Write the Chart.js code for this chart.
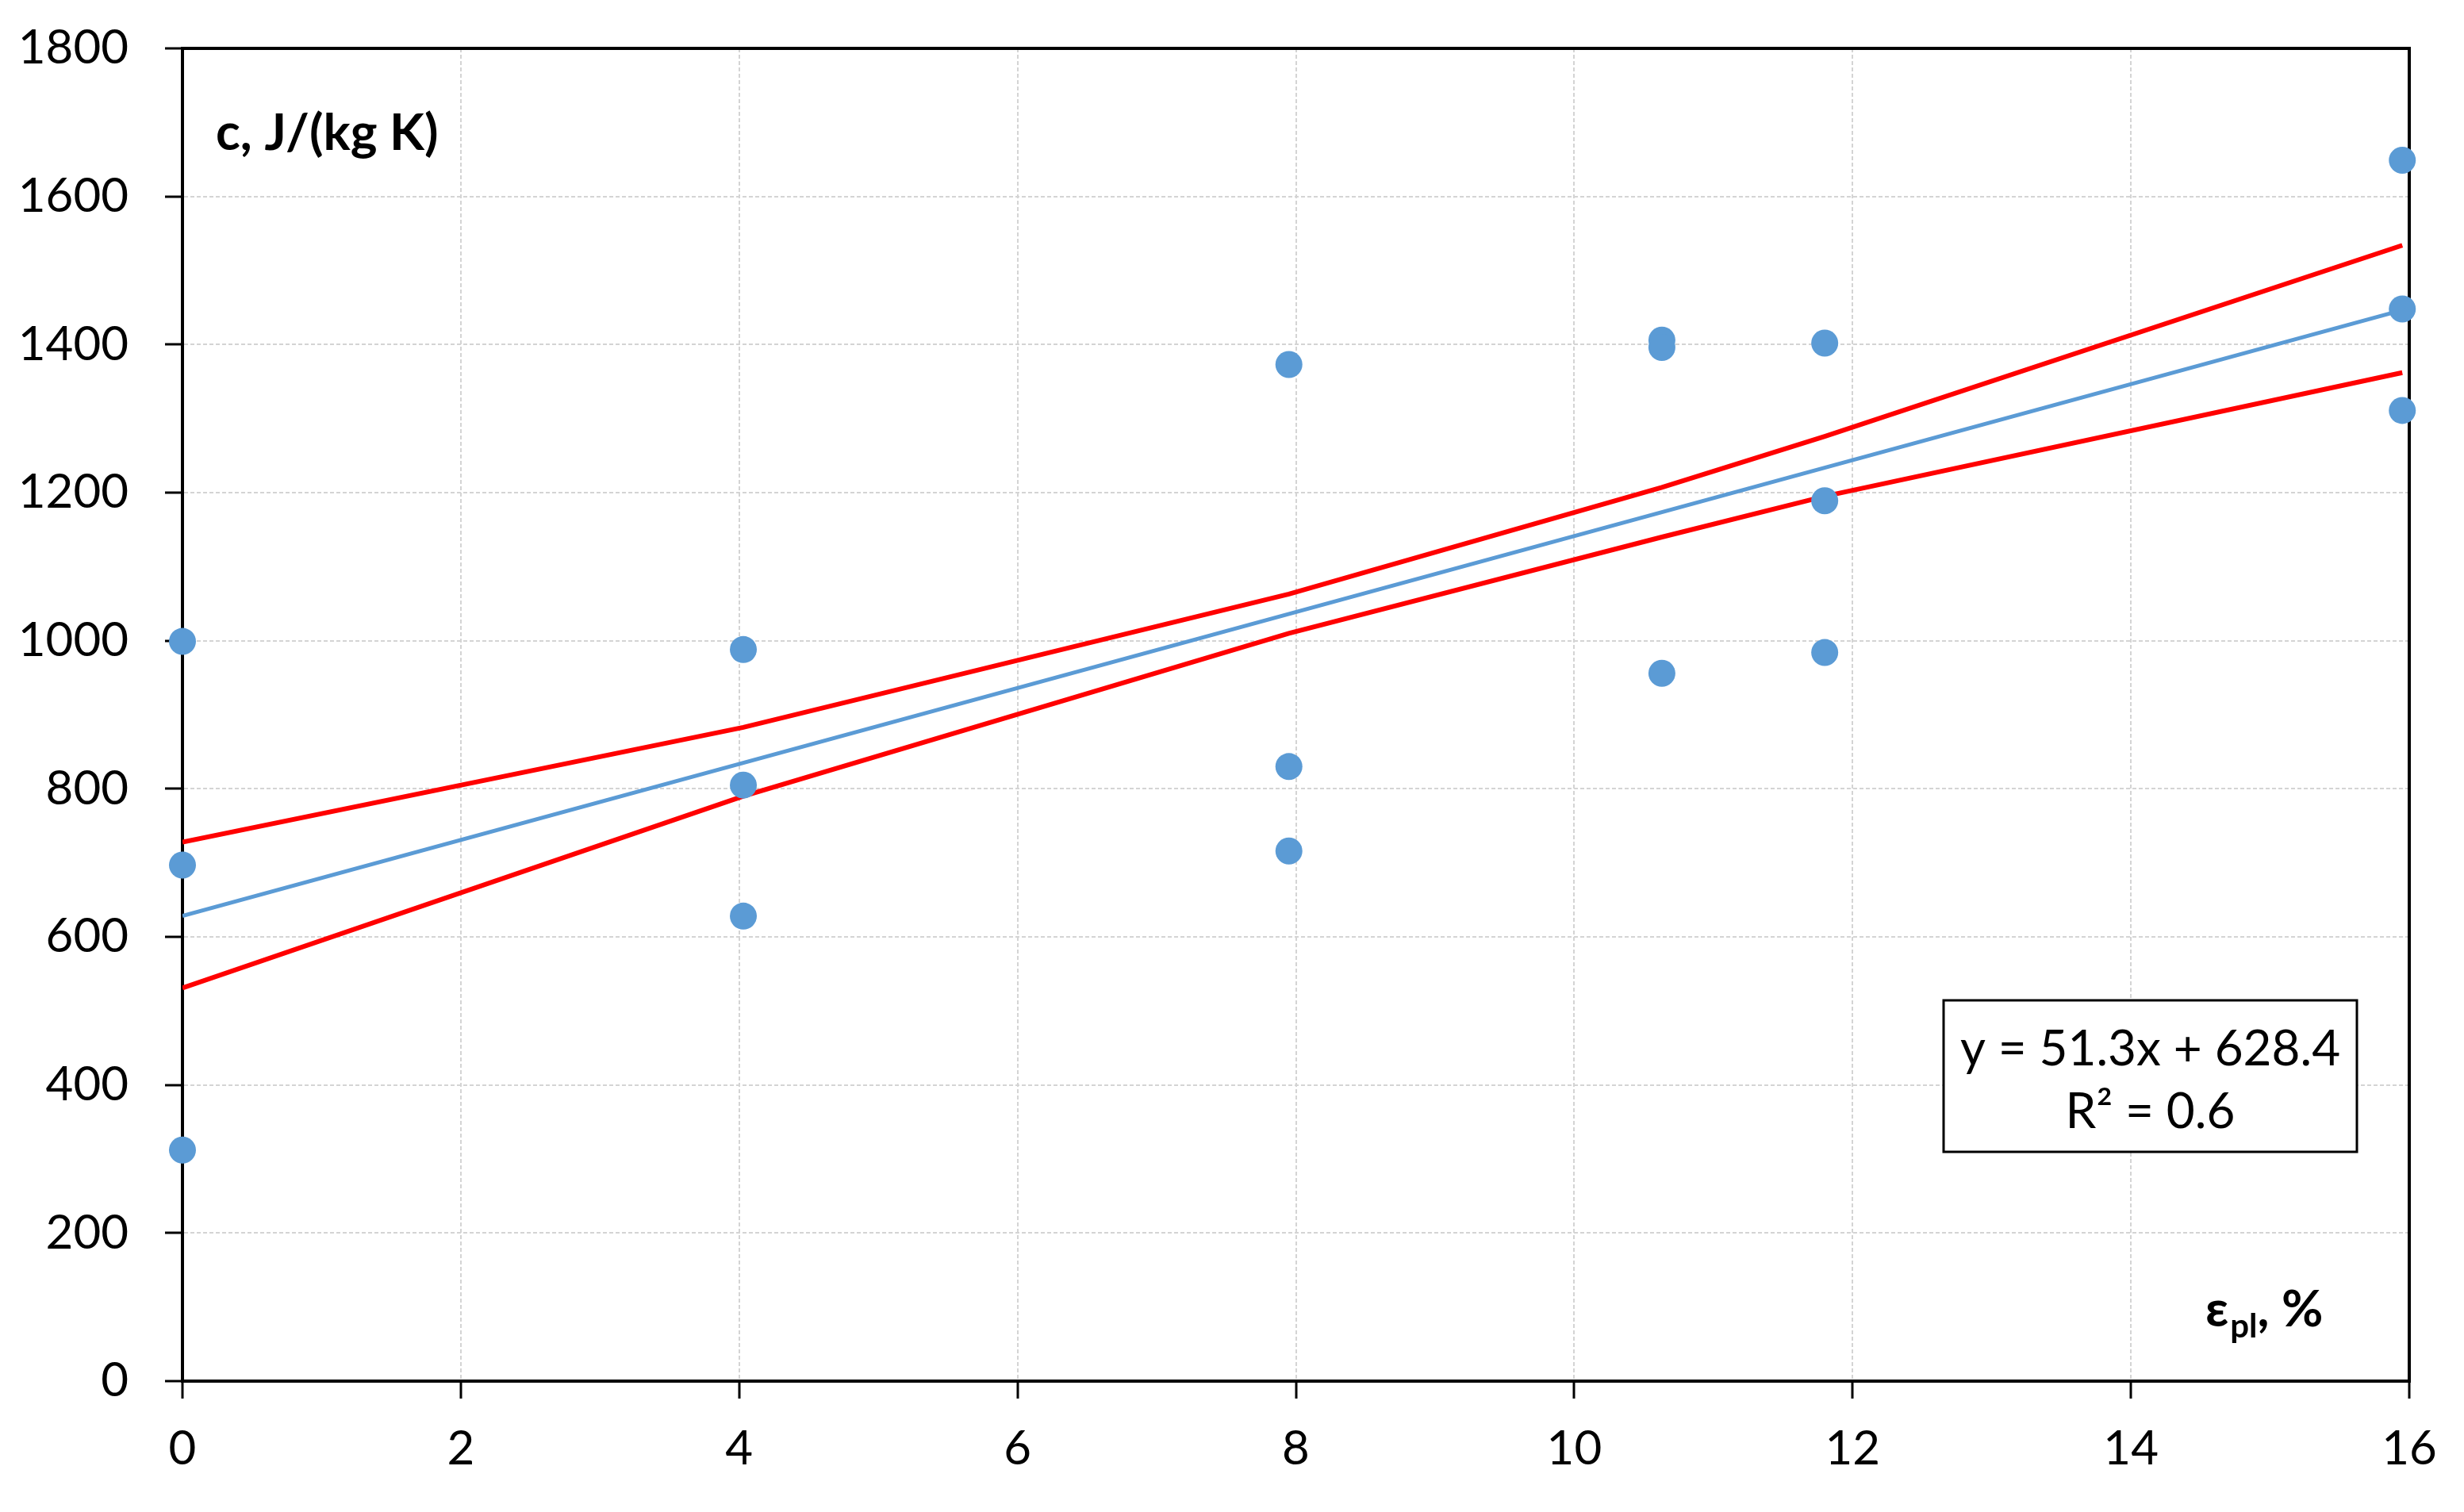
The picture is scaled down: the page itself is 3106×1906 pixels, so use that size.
<!DOCTYPE html>
<html>
<head>
<meta charset="utf-8">
<script src="https://cdn.jsdelivr.net/npm/chart.js@4.4.1/dist/chart.umd.min.js"></script>
<style>
  html, body { margin: 0; padding: 0; background: #fff; }
  canvas { display: block; }
</style>
</head>
<body>
<canvas id="heatChart" width="3106" height="1906"></canvas>
<script>
// measured points: plastic strain (%) vs specific heat c, J/(kg K)
const strainX = [0, 0, 0, 4.03, 4.03, 4.03, 7.95, 7.95, 7.95, 10.63, 10.63, 10.63, 11.8, 11.8, 11.8, 15.95, 15.95, 15.95];
const heatC = [999, 697, 312, 988, 805, 628, 1373, 830, 716, 1406, 1396, 956, 1402, 1189, 984, 1649, 1448, 1311];

// linear trend line (ends)
const trendX = [0, 15.95];
const trendY = [628.4, 1446.6];

// confidence band, read at the data x positions
const bandX = [0, 4.03, 7.95, 10.63, 11.8, 15.95];
const bandUpper = [728, 883, 1063, 1207, 1276, 1534];
const bandLower = [531, 790, 1010, 1140, 1195, 1362];

const xTicks = [0, 2, 4, 6, 8, 10, 12, 14, 16];
const yTicks = [0, 200, 400, 600, 800, 1000, 1200, 1400, 1600, 1800];

const eqLines = ['y = 51.3x + 628.4', 'R\u00B2 = 0.6'];

const tickFont = { family: 'Lato, "DejaVu Sans", sans-serif', size: 60 };

function toPoints(xs, ys) {
  return xs.map(function (x, i) { return { x: x, y: ys[i] }; });
}

var framePlugin = {
  id: 'frame',
  beforeDatasetsDraw: function (chart) {
    var a = chart.chartArea, ctx = chart.ctx;
    ctx.save();
    ctx.strokeStyle = '#000';
    ctx.lineWidth = 4;
    ctx.strokeRect(a.left, a.top, a.right - a.left, a.bottom - a.top);
    ctx.restore();
  },
  afterDraw: function (chart) {
    var a = chart.chartArea, ctx = chart.ctx;
    ctx.save();
    ctx.fillStyle = '#000';
    ctx.textBaseline = 'alphabetic';

    // y title
    ctx.font = 'bold 64px Lato, sans-serif';
    ctx.textAlign = 'left';
    ctx.fillText('c, J/(kg K)', a.left + 42, a.top + 128);

    // x title with subscript
    var x = a.right - 257, y = a.bottom - 69;
    ctx.fillText('\u03B5', x, y);
    x += ctx.measureText('\u03B5').width + 2;
    ctx.font = 'bold 42px Lato, sans-serif';
    ctx.fillText('pl', x, y + 14);
    x += ctx.measureText('pl').width;
    ctx.font = 'bold 64px Lato, sans-serif';
    ctx.fillText(', %', x, y);

    // equation box
    var bx = a.right - 587, by = a.bottom - 480, bw = 521, bh = 191;
    ctx.fillStyle = '#fff';
    ctx.fillRect(bx, by, bw, bh);
    ctx.strokeStyle = '#000';
    ctx.lineWidth = 3;
    ctx.strokeRect(bx, by, bw, bh);
    ctx.fillStyle = '#000';
    ctx.font = '62px Lato, sans-serif';
    ctx.textAlign = 'center';
    ctx.textBaseline = 'middle';
    ctx.fillText(eqLines[0], bx + bw / 2, by + 62);
    ctx.fillText(eqLines[1], bx + bw / 2, by + 141);
    ctx.restore();
  }
};

var ctx = document.getElementById('heatChart').getContext('2d');
var heatChart = new Chart(ctx, {
  type: 'scatter',
  data: {
    datasets: [
      {
        label: 'data',
        data: toPoints(strainX, heatC),
        backgroundColor: '#5B9BD5',
        borderWidth: 0,
        pointRadius: 17,
        clip: false,
        order: 0
      },
      {
        label: 'trend',
        type: 'line',
        data: toPoints(trendX, trendY),
        borderColor: '#5B9BD5',
        borderWidth: 5,
        pointRadius: 0,
        fill: false,
        order: 1
      },
      {
        label: 'upper',
        type: 'line',
        data: toPoints(bandX, bandUpper),
        borderColor: '#FF0000',
        borderWidth: 6,
        pointRadius: 0,
        fill: false,
        order: 2
      },
      {
        label: 'lower',
        type: 'line',
        data: toPoints(bandX, bandLower),
        borderColor: '#FF0000',
        borderWidth: 6,
        pointRadius: 0,
        fill: false,
        order: 2
      }
    ]
  },
  options: {
    responsive: false,
    animation: false,
    devicePixelRatio: 1,
    layout: { padding: { top: 61, right: 69, left: 0, bottom: 0 } },
    plugins: { legend: { display: false }, tooltip: { enabled: false } },
    scales: {
      x: {
        type: 'linear',
        min: 0,
        max: 16,
        afterBuildTicks: function (scale) { scale.ticks = xTicks.map(function (v) { return { value: v }; }); },
        afterFit: function (scale) { scale.height = 165; scale.paddingLeft = 0; scale.paddingRight = 0; },
        ticks: { font: tickFont, color: '#000', padding: 28, maxRotation: 0, callback: function (v) { return String(v); } },
        grid: { color: '#d4d4d4', lineWidth: 2, tickLength: 22, tickColor: '#000', tickWidth: 3 },
        border: { color: '#000', width: 4, dash: [5, 3] }
      },
      y: {
        type: 'linear',
        min: 0,
        max: 1800,
        afterBuildTicks: function (scale) { scale.ticks = yTicks.map(function (v) { return { value: v }; }); },
        afterFit: function (scale) { scale.width = 230; scale.paddingTop = 0; scale.paddingBottom = 0; },
        ticks: { font: tickFont, color: '#000', padding: 46, callback: function (v) { return String(v); } },
        grid: { color: '#d4d4d4', lineWidth: 2, tickLength: 22, tickColor: '#000', tickWidth: 3 },
        border: { color: '#000', width: 4, dash: [5, 3] }
      }
    }
  },
  plugins: [framePlugin]
});
</script>
</body>
</html>
